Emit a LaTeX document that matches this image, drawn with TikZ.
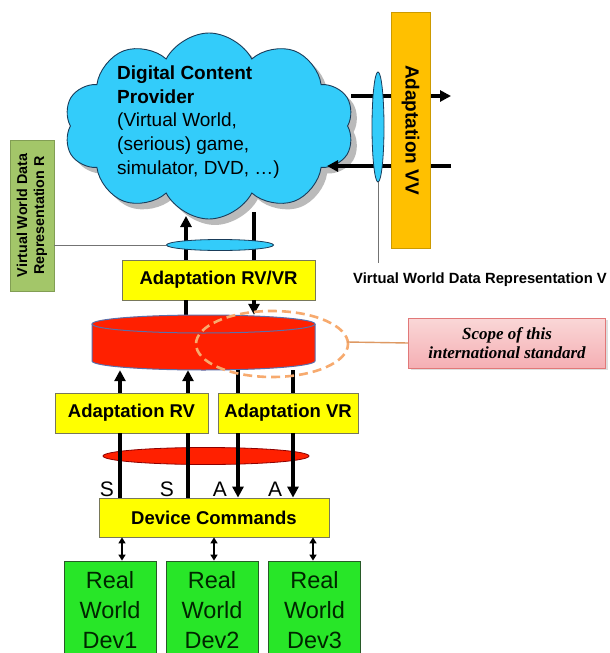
\documentclass[tikz,border=0pt]{standalone}
\usepackage{fontspec}
\setmainfont{Liberation Sans}
\newfontfamily\scopefont{Liberation Serif}
\usetikzlibrary{shapes.symbols,shapes.geometric,shadows,arrows.meta}
\definecolor{cloudblue}{RGB}{51,204,250}
\definecolor{cloudline}{RGB}{25,60,90}
\definecolor{ybox}{RGB}{255,255,0}
\definecolor{yline}{RGB}{120,120,90}
\definecolor{devgreen}{RGB}{40,230,40}
\definecolor{devline}{RGB}{40,90,40}
\definecolor{olive}{RGB}{163,198,105}
\definecolor{vvorange}{RGB}{255,192,0}
\definecolor{cylred}{RGB}{255,32,0}
\definecolor{cylline}{RGB}{90,110,170}
\definecolor{dashorange}{RGB}{247,170,110}
\definecolor{pinkline}{RGB}{225,120,120}
\definecolor{pinktop}{RGB}{250,215,215}
\definecolor{pinkbot}{RGB}{245,175,180}
\begin{document}
\begin{tikzpicture}[x=1pt,y=-1pt,
  conn/.style={line width=3.4pt},
  arr/.style={conn,-{Triangle[length=11pt,width=11pt]}},
  darr/.style={line width=2.2pt,{Triangle[length=6pt,width=7pt]}-{Triangle[length=6pt,width=7pt]}},
  yellowbox/.style={draw=yline,fill=ybox,line width=0.8pt,inner sep=0pt,minimum height=40pt,
    font=\fontsize{18.5}{22}\selectfont\bfseries},
  devbox/.style={draw=devline,fill=devgreen,line width=0.8pt,inner sep=0pt,minimum width=92pt,
    minimum height=98pt,align=center,text=black!85!green,font=\fontsize{23.5}{30}\selectfont},
  lbl/.style={font=\fontsize{21}{24}\selectfont,inner sep=0pt}
]
\clip (0,0) rectangle (610,653);
\fill[white] (0,0) rectangle (610,653);

% cloud
\node[cloud, cloud puffs=10, cloud puff arc=125, aspect=1.55, draw=cloudline, line width=0.9pt,
  fill=cloudblue, minimum width=290pt, minimum height=186pt, inner sep=0pt,
  drop shadow={opacity=0.45,fill=black!60,shadow xshift=6pt,shadow yshift=-6pt}] (cloud) at (209,126) {};
\node[anchor=west,align=left,inner sep=0pt,font=\fontsize{19}{23.7}\selectfont] (cloudtxt) at (117,122)
  {\textbf{Digital Content}\\\textbf{Provider}\\(Virtual World,\\(serious) game,\\simulator, DVD, \dots)};

% coordinates for vertical lines
\coordinate (cA) at (186,0);
\coordinate (cB) at (254,0);
\coordinate (l1) at (120,0);
\coordinate (l2) at (188,0);
\coordinate (l3) at (238,0);
\coordinate (l4) at (293,0);
\coordinate (d1) at (122,0);
\coordinate (d2) at (214,0);
\coordinate (d3) at (313,0);
\coordinate (cldA) at (186,216);
\coordinate (cldB) at (254,212);

% boxes (named, placed first for anchors)
\node[yellowbox,minimum width=193pt] (rvvr) at (218.5,280) {Adaptation RV/VR};
\node[yellowbox,minimum width=153pt] (rv) at (131.5,413) {Adaptation RV};
\node[yellowbox,minimum width=140pt] (vr) at (288,413) {Adaptation VR};
\node[yellowbox,minimum width=230pt,minimum height=39pt] (dc) at (214,517.5) {Device Commands};
\node[inner sep=0pt,minimum width=223pt,minimum height=55pt] (cyl) at (203.5,342.5) {};

% horizontal arrows at the right of the cloud
\coordinate (hA1) at (351,96);
\coordinate (hA2) at (451,96);
\coordinate (hB1) at (451,166);
\coordinate (hB2) at (327,166);
\draw[arr] (hA1) -- (hA2);
\draw[arr] (hB1) -- (hB2);

% vertical connectors top
\draw[arr] (rvvr.north -| cA) -- (cldA);
\draw[conn] (cldB) -- (rvvr.north -| cB);
\draw[conn] (rvvr.south -| cA) -- (cyl.north -| cA);
\draw[arr] (rvvr.south -| cB) -- (cyl.north -| cB);

% blue ellipse R
\node[ellipse,draw=cloudline,fill=cloudblue,line width=0.8pt,minimum width=107pt,minimum height=11pt,inner sep=0pt] (ellR) at (220,245) {};
% olive box
\node[draw=olive!80!black,fill=olive,line width=0.6pt,minimum width=151pt,minimum height=44pt,inner sep=0pt,
  rotate=90,align=center,font=\fontsize{14.3}{17}\selectfont\bfseries] (repR) at (32,215.5)
  {Virtual World Data\\Representation R};
\draw[line width=1pt,black!55] (repR.south |- ellR) -- (ellR.west);

% orange VV box
\node[draw=vvorange!80!black,fill=vvorange,line width=0.6pt,minimum width=236pt,minimum height=39pt,inner sep=0pt,
  rotate=-90,font=\fontsize{19}{22}\selectfont\bfseries] (vv) at (410.5,130) {Adaptation VV};
% vertical blue ellipse V
\node[ellipse,draw=cloudline,fill=cloudblue,line width=0.8pt,minimum width=12pt,minimum height=110pt,inner sep=0pt] (ellV) at (378,127) {};
\coordinate (vend) at (378,263);
\draw[line width=1pt,black!55] (ellV.south) -- (vend);
\node[font=\fontsize{14.8}{17}\selectfont\bfseries,inner sep=0pt] (repV) at (480,280) {Virtual World Data Representation V};

% cylinder
\fill[cylred] (92,324) -- (92,361) arc[start angle=180,end angle=0,x radius=111.5,y radius=9]
  -- (315,324) arc[start angle=0,end angle=-180,x radius=111.5,y radius=9] -- cycle;
\draw[cylline,line width=1pt] (92,324) -- (92,361) arc[start angle=180,end angle=0,x radius=111.5,y radius=9]
  -- (315,324);
\draw[cylline,line width=1pt] (203.5,324) ellipse[x radius=111.5,y radius=9];

% connectors below cylinder
\draw[arr] (rv.north -| l1) -- (cyl.south -| l1);
\draw[arr] (rv.north -| l2) -- (cyl.south -| l2);
\draw[conn] (cyl.south -| l3) -- (vr.north -| l3);
\draw[conn] (cyl.south -| l4) -- (vr.north -| l4);

% red ellipse
\node[ellipse,draw=red!55!black,fill=cylred,line width=0.8pt,minimum width=206pt,minimum height=17pt,inner sep=0pt] (ellD) at (206,456) {};
\draw[conn] (rv.south -| l1) -- (dc.north -| l1);
\draw[conn] (rv.south -| l2) -- (dc.north -| l2);
\draw[arr] (vr.south -| l3) -- (dc.north -| l3);
\draw[arr] (vr.south -| l4) -- (dc.north -| l4);
\node[lbl] (s1) at (107,489) {S};
\node[lbl] (s2) at (167,489) {S};
\node[lbl] (a1) at (220,489) {A};
\node[lbl] (a2) at (275,489) {A};

% dashed scope ellipse
\node[ellipse,draw=dashorange,line width=2.6pt,dash pattern=on 9pt off 5pt,minimum width=152pt,minimum height=66pt,inner sep=0pt] (scopeell) at (272,344) {};
\node[draw=pinkline,line width=0.6pt,top color=pinktop,bottom color=pinkbot,minimum width=197pt,minimum height=50pt,
  inner sep=0pt,align=center,font=\scopefont\fontsize{17}{19.5}\selectfont\bfseries\itshape,
  drop shadow={opacity=0.25,shadow xshift=2pt,shadow yshift=-2pt}] (scope) at (507,343)
  {Scope of this\\international standard};
\coordinate (sc1) at (347,342);
\draw[line width=1.4pt,dashorange!90!black] (sc1) -- (scope.west);

% devices
\node[devbox] (dev1) at (110,610) {Real\\World\\Dev1};
\node[devbox] (dev2) at (212,610) {Real\\World\\Dev2};
\node[devbox] (dev3) at (314.5,610) {Real\\World\\Dev3};
\draw[darr] (dc.south -| d1) -- (dev1.north -| d1);
\draw[darr] (dc.south -| d2) -- (dev2.north -| d2);
\draw[darr] (dc.south -| d3) -- (dev3.north -| d3);
\end{tikzpicture}
\end{document}
